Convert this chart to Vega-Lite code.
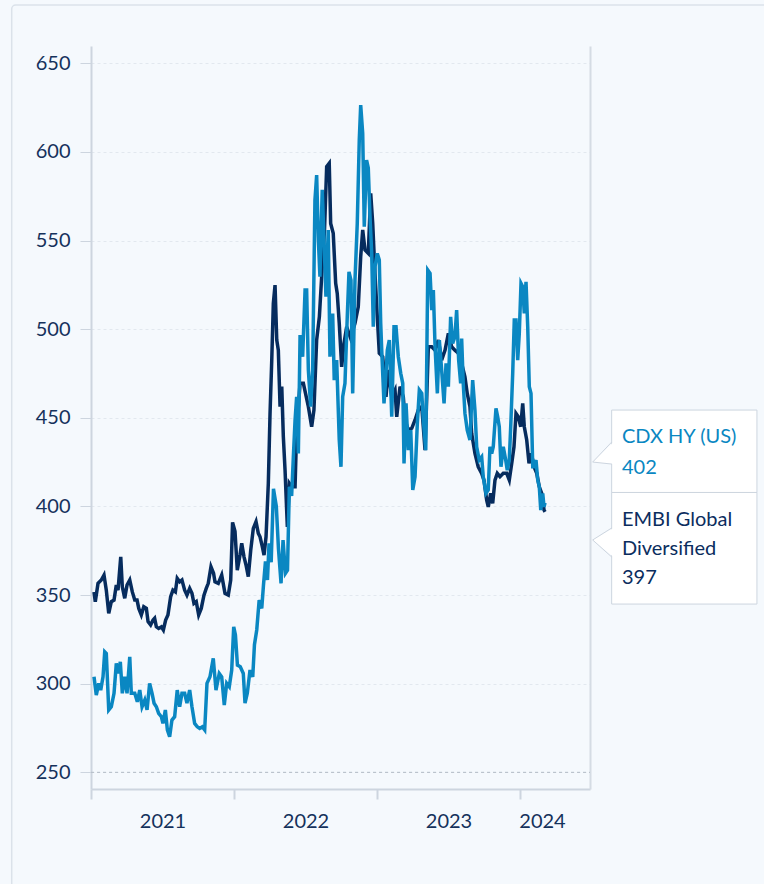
{
  "$schema": "https://vega.github.io/schema/vega-lite/v6.json",
  "autosize": {"type": "none"},
  "padding": {"left": 91, "top": 46, "right": 174, "bottom": 95},
  "width": 499,
  "height": 743,
  "background": "#f5f9fd",
  "config": {"view": {"stroke": null}, "font": "Lato"},
  "datasets": {
    "embi": [
      {"year":2021.021,"spread":351.8},{"year":2021.030,"spread":346.3},{"year":2021.049,"spread":356.6},{"year":2021.072,"spread":358.5},{"year":2021.091,"spread":361.3},{"year":2021.107,"spread":352.8},{"year":2021.124,"spread":339.7},{"year":2021.142,"spread":346.3},{"year":2021.161,"spread":347.2},{"year":2021.177,"spread":355.7},{"year":2021.189,"spread":352.8},{"year":2021.208,"spread":371.6},{"year":2021.219,"spread":354.7},{"year":2021.236,"spread":348.2},{"year":2021.252,"spread":355.7},{"year":2021.271,"spread":358.5},{"year":2021.289,"spread":351.8},{"year":2021.306,"spread":347.2},{"year":2021.322,"spread":347.2},{"year":2021.334,"spread":342.5},{"year":2021.352,"spread":338.8},{"year":2021.369,"spread":343.4},{"year":2021.387,"spread":342.5},{"year":2021.399,"spread":335},{"year":2021.417,"spread":333.1},{"year":2021.434,"spread":335.9},{"year":2021.445,"spread":336.9},{"year":2021.457,"spread":332.1},{"year":2021.473,"spread":331.2},{"year":2021.492,"spread":332.1},{"year":2021.506,"spread":330.3},{"year":2021.522,"spread":335.9},{"year":2021.538,"spread":338.8},{"year":2021.557,"spread":349.1},{"year":2021.573,"spread":352.8},{"year":2021.590,"spread":351.8},{"year":2021.603,"spread":359.4},{"year":2021.620,"spread":357.5},{"year":2021.636,"spread":358.5},{"year":2021.655,"spread":352.8},{"year":2021.671,"spread":350},{"year":2021.690,"spread":353.8},{"year":2021.706,"spread":351},{"year":2021.720,"spread":345.3},{"year":2021.736,"spread":346.3},{"year":2021.753,"spread":338.8},{"year":2021.771,"spread":342.5},{"year":2021.790,"spread":350},{"year":2021.806,"spread":353.8},{"year":2021.820,"spread":356.6},{"year":2021.839,"spread":366},{"year":2021.857,"spread":362.3},{"year":2021.867,"spread":357.5},{"year":2021.890,"spread":356.6},{"year":2021.914,"spread":361.3},{"year":2021.937,"spread":351},{"year":2021.960,"spread":350},{"year":2021.977,"spread":358.5},{"year":2021.990,"spread":391},{"year":2022.007,"spread":386},{"year":2022.023,"spread":364.1},{"year":2022.042,"spread":372.6},{"year":2022.054,"spread":379.2},{"year":2022.070,"spread":371.6},{"year":2022.084,"spread":367},{"year":2022.100,"spread":360.4},{"year":2022.117,"spread":375.4},{"year":2022.135,"spread":387.6},{"year":2022.154,"spread":391.4},{"year":2022.170,"spread":384.8},{"year":2022.182,"spread":382.9},{"year":2022.198,"spread":377.3},{"year":2022.210,"spread":372.6},{"year":2022.224,"spread":382.9},{"year":2022.240,"spread":413},{"year":2022.252,"spread":452.5},{"year":2022.264,"spread":482.6},{"year":2022.275,"spread":514.6},{"year":2022.287,"spread":524.9},{"year":2022.299,"spread":493.9},{"year":2022.310,"spread":488.2},{"year":2022.322,"spread":456.3},{"year":2022.334,"spread":467.6},{"year":2022.345,"spread":439.4},{"year":2022.357,"spread":420.5},{"year":2022.373,"spread":388.5},{"year":2022.387,"spread":413},{"year":2022.403,"spread":411.1},{"year":2022.427,"spread":411.1},{"year":2022.438,"spread":443},{"year":2022.462,"spread":469.5},{"year":2022.485,"spread":469.5},{"year":2022.520,"spread":456.3},{"year":2022.543,"spread":445},{"year":2022.559,"spread":454.4},{"year":2022.578,"spread":493.9},{"year":2022.597,"spread":507},{"year":2022.613,"spread":529.6},{"year":2022.633,"spread":556},{"year":2022.648,"spread":591.7},{"year":2022.666,"spread":593.6},{"year":2022.676,"spread":559.7},{"year":2022.694,"spread":554.1},{"year":2022.711,"spread":525.9},{"year":2022.722,"spread":520.2},{"year":2022.736,"spread":503.3},{"year":2022.753,"spread":478.8},{"year":2022.769,"spread":492},{"year":2022.788,"spread":501.4},{"year":2022.815,"spread":495},{"year":2022.846,"spread":503.3},{"year":2022.869,"spread":512.7},{"year":2022.886,"spread":540.9},{"year":2022.900,"spread":556},{"year":2022.916,"spread":544.7},{"year":2022.939,"spread":542.8},{"year":2022.956,"spread":576.7},{"year":2022.970,"spread":559.7},{"year":2022.986,"spread":531.5},{"year":2023.000,"spread":510},{"year":2023.016,"spread":486.4},{"year":2023.040,"spread":484.5},{"year":2023.063,"spread":461.9},{"year":2023.079,"spread":477},{"year":2023.103,"spread":461.9},{"year":2023.126,"spread":465.7},{"year":2023.138,"spread":450.6},{"year":2023.161,"spread":467.6},{"year":2023.184,"spread":461.9},{"year":2023.196,"spread":448.8},{"year":2023.219,"spread":443.1},{"year":2023.243,"spread":444.1},{"year":2023.266,"spread":448.8},{"year":2023.289,"spread":454.4},{"year":2023.313,"spread":456.3},{"year":2023.336,"spread":431.8},{"year":2023.359,"spread":490.1},{"year":2023.383,"spread":490.1},{"year":2023.406,"spread":488.2},{"year":2023.429,"spread":493.9},{"year":2023.452,"spread":482.6},{"year":2023.476,"spread":488.2},{"year":2023.499,"spread":497.7},{"year":2023.522,"spread":490.1},{"year":2023.545,"spread":488.2},{"year":2023.569,"spread":486.4},{"year":2023.592,"spread":480.7},{"year":2023.615,"spread":473.2},{"year":2023.631,"spread":463.8},{"year":2023.650,"spread":456.3},{"year":2023.662,"spread":441.3},{"year":2023.685,"spread":429.9},{"year":2023.708,"spread":422.4},{"year":2023.732,"spread":418.7},{"year":2023.748,"spread":414.9},{"year":2023.767,"spread":403.6},{"year":2023.778,"spread":399.8},{"year":2023.795,"spread":407.4},{"year":2023.809,"spread":401.8},{"year":2023.825,"spread":414.9},{"year":2023.841,"spread":418.7},{"year":2023.860,"spread":416.8},{"year":2023.883,"spread":418.7},{"year":2023.907,"spread":418.7},{"year":2023.925,"spread":414.9},{"year":2023.942,"spread":424.3},{"year":2023.958,"spread":433.7},{"year":2023.972,"spread":452.5},{"year":2023.988,"spread":450.6},{"year":2024.005,"spread":445},{"year":2024.019,"spread":458.2},{"year":2024.030,"spread":445},{"year":2024.047,"spread":437.5},{"year":2024.063,"spread":424.3},{"year":2024.080,"spread":430},{"year":2024.098,"spread":422.4},{"year":2024.117,"spread":418.7},{"year":2024.135,"spread":411.1},{"year":2024.152,"spread":407.4},{"year":2024.168,"spread":398},{"year":2024.175,"spread":397}
    ],
    "cdx": [
      {"year":2021.021,"spread":303.9},{"year":2021.037,"spread":293.6},{"year":2021.054,"spread":300.2},{"year":2021.068,"spread":296.4},{"year":2021.084,"spread":303.9},{"year":2021.096,"spread":318},{"year":2021.107,"spread":317.1},{"year":2021.124,"spread":285.2},{"year":2021.142,"spread":287},{"year":2021.161,"spread":294.6},{"year":2021.177,"spread":311.5},{"year":2021.194,"spread":305.8},{"year":2021.205,"spread":312.4},{"year":2021.219,"spread":294.6},{"year":2021.236,"spread":303.9},{"year":2021.252,"spread":294.6},{"year":2021.271,"spread":315.2},{"year":2021.282,"spread":294.6},{"year":2021.306,"spread":294.6},{"year":2021.324,"spread":289.8},{"year":2021.341,"spread":296.4},{"year":2021.357,"spread":287},{"year":2021.376,"spread":290.8},{"year":2021.392,"spread":285.2},{"year":2021.410,"spread":300.2},{"year":2021.427,"spread":294.6},{"year":2021.441,"spread":289},{"year":2021.457,"spread":287},{"year":2021.473,"spread":283.3},{"year":2021.492,"spread":281.4},{"year":2021.503,"spread":277.6},{"year":2021.520,"spread":285.2},{"year":2021.534,"spread":273.9},{"year":2021.550,"spread":270.1},{"year":2021.566,"spread":279.5},{"year":2021.585,"spread":281.4},{"year":2021.603,"spread":296.4},{"year":2021.620,"spread":287},{"year":2021.636,"spread":294.6},{"year":2021.655,"spread":294.6},{"year":2021.671,"spread":289},{"year":2021.690,"spread":296.4},{"year":2021.706,"spread":287},{"year":2021.725,"spread":277.6},{"year":2021.743,"spread":275.7},{"year":2021.760,"spread":274.8},{"year":2021.778,"spread":275.7},{"year":2021.795,"spread":273.9},{"year":2021.811,"spread":300.2},{"year":2021.832,"spread":303.9},{"year":2021.855,"spread":314.3},{"year":2021.874,"spread":296.4},{"year":2021.897,"spread":305.8},{"year":2021.914,"spread":303.9},{"year":2021.932,"spread":288},{"year":2021.949,"spread":300.2},{"year":2021.967,"spread":298.3},{"year":2021.984,"spread":307.7},{"year":2021.998,"spread":332.1},{"year":2022.010,"spread":327.5},{"year":2022.024,"spread":310.5},{"year":2022.044,"spread":309.6},{"year":2022.065,"spread":305.8},{"year":2022.077,"spread":289},{"year":2022.093,"spread":294.6},{"year":2022.112,"spread":307.7},{"year":2022.131,"spread":303.9},{"year":2022.143,"spread":322},{"year":2022.159,"spread":330.3},{"year":2022.176,"spread":347.2},{"year":2022.194,"spread":342.5},{"year":2022.206,"spread":355.5},{"year":2022.220,"spread":369},{"year":2022.234,"spread":358.5},{"year":2022.245,"spread":379.2},{"year":2022.260,"spread":368.5},{"year":2022.276,"spread":410},{"year":2022.296,"spread":400},{"year":2022.311,"spread":376},{"year":2022.329,"spread":356.6},{"year":2022.343,"spread":381},{"year":2022.360,"spread":362.3},{"year":2022.374,"spread":364},{"year":2022.387,"spread":411.1},{"year":2022.403,"spread":406},{"year":2022.415,"spread":428},{"year":2022.427,"spread":448.8},{"year":2022.438,"spread":461.9},{"year":2022.450,"spread":429.9},{"year":2022.462,"spread":496.8},{"year":2022.480,"spread":484.5},{"year":2022.497,"spread":522.1},{"year":2022.508,"spread":522.1},{"year":2022.520,"spread":477},{"year":2022.536,"spread":456.3},{"year":2022.550,"spread":477},{"year":2022.566,"spread":572.9},{"year":2022.578,"spread":587},{"year":2022.590,"spread":550.3},{"year":2022.601,"spread":529.6},{"year":2022.617,"spread":578.6},{"year":2022.631,"spread":546.6},{"year":2022.643,"spread":518.3},{"year":2022.659,"spread":556},{"year":2022.671,"spread":484.5},{"year":2022.690,"spread":508.9},{"year":2022.701,"spread":471.3},{"year":2022.718,"spread":482.6},{"year":2022.736,"spread":437.5},{"year":2022.748,"spread":422.4},{"year":2022.760,"spread":461.9},{"year":2022.776,"spread":469.5},{"year":2022.792,"spread":507},{"year":2022.804,"spread":532.4},{"year":2022.818,"spread":527.7},{"year":2022.830,"spread":463.8},{"year":2022.846,"spread":527.7},{"year":2022.862,"spread":559.7},{"year":2022.876,"spread":606.7},{"year":2022.886,"spread":626.5},{"year":2022.900,"spread":610.5},{"year":2022.911,"spread":557.8},{"year":2022.927,"spread":595.4},{"year":2022.939,"spread":591},{"year":2022.951,"spread":563.5},{"year":2022.963,"spread":542.8},{"year":2022.974,"spread":501.4},{"year":2022.986,"spread":535.3},{"year":2023.002,"spread":542.8},{"year":2023.016,"spread":539},{"year":2023.026,"spread":503.3},{"year":2023.033,"spread":488.2},{"year":2023.049,"spread":458.2},{"year":2023.059,"spread":470},{"year":2023.072,"spread":488.2},{"year":2023.086,"spread":493.9},{"year":2023.103,"spread":450.6},{"year":2023.119,"spread":501.4},{"year":2023.133,"spread":501.4},{"year":2023.149,"spread":484.5},{"year":2023.166,"spread":475.1},{"year":2023.180,"spread":469.5},{"year":2023.189,"spread":424.3},{"year":2023.203,"spread":458.2},{"year":2023.219,"spread":431.8},{"year":2023.236,"spread":443.1},{"year":2023.250,"spread":409.3},{"year":2023.266,"spread":416.8},{"year":2023.282,"spread":446.9},{"year":2023.296,"spread":465.7},{"year":2023.313,"spread":463.8},{"year":2023.324,"spread":448.8},{"year":2023.341,"spread":431.8},{"year":2023.355,"spread":533.4},{"year":2023.371,"spread":531.5},{"year":2023.383,"spread":510.8},{"year":2023.394,"spread":522.1},{"year":2023.406,"spread":490.1},{"year":2023.422,"spread":463.8},{"year":2023.436,"spread":493.9},{"year":2023.452,"spread":477},{"year":2023.469,"spread":458.2},{"year":2023.483,"spread":480.7},{"year":2023.499,"spread":467.6},{"year":2023.515,"spread":507},{"year":2023.529,"spread":492},{"year":2023.545,"spread":495.8},{"year":2023.557,"spread":510.8},{"year":2023.571,"spread":482.6},{"year":2023.585,"spread":469.5},{"year":2023.592,"spread":494.8},{"year":2023.603,"spread":469.5},{"year":2023.615,"spread":452.5},{"year":2023.631,"spread":443.1},{"year":2023.650,"spread":437.5},{"year":2023.669,"spread":471.3},{"year":2023.685,"spread":454.4},{"year":2023.697,"spread":433.7},{"year":2023.715,"spread":426.2},{"year":2023.732,"spread":428},{"year":2023.743,"spread":416.8},{"year":2023.762,"spread":407.4},{"year":2023.778,"spread":409.3},{"year":2023.790,"spread":433.7},{"year":2023.802,"spread":429.9},{"year":2023.813,"spread":433.7},{"year":2023.832,"spread":455.3},{"year":2023.844,"spread":450.6},{"year":2023.855,"spread":445},{"year":2023.867,"spread":422.4},{"year":2023.883,"spread":433.7},{"year":2023.900,"spread":426.2},{"year":2023.911,"spread":420.5},{"year":2023.925,"spread":426.2},{"year":2023.935,"spread":445},{"year":2023.949,"spread":475.1},{"year":2023.960,"spread":505.2},{"year":2023.972,"spread":505.2},{"year":2023.984,"spread":482.6},{"year":2023.995,"spread":497.7},{"year":2024.007,"spread":525.9},{"year":2024.019,"spread":524},{"year":2024.030,"spread":508.9},{"year":2024.042,"spread":526.8},{"year":2024.054,"spread":501.4},{"year":2024.065,"spread":467.6},{"year":2024.077,"spread":463.8},{"year":2024.089,"spread":422.4},{"year":2024.100,"spread":422.4},{"year":2024.112,"spread":426.2},{"year":2024.124,"spread":414.9},{"year":2024.135,"spread":411.1},{"year":2024.145,"spread":398},{"year":2024.159,"spread":407.4},{"year":2024.168,"spread":399.8},{"year":2024.175,"spread":402}
    ]
  },
  "resolve": {"axis": {"x": "independent", "y": "independent"}},
  "layer": [
    {
      "data": {"values": [{}]},
      "mark": {"type": "rect", "fill": null, "stroke": "#dbe2ea", "strokeWidth": 1.5, "cornerRadius": 4},
      "encoding": {
        "x": {"datum": 2020.4455, "type": "quantitative", "axis": null},
        "x2": {"datum": 2026.2},
        "y": {"datum": 682.9, "type": "quantitative", "axis": null},
        "y2": {"datum": 180}
      }
    },
    {
      "data": {"name": "embi"},
      "mark": {"type": "line", "color": "#062c5e", "strokeWidth": 3.5, "strokeJoin": "miter"},
      "encoding": {
        "x": {"field": "year", "type": "quantitative",
          "scale": {"domain": [2021, 2024.4895], "nice": false, "zero": false},
          "axis": {"values": [2021, 2022, 2023, 2024], "labels": false, "ticks": true, "tickSize": 10, "tickWidth": 2, "tickColor": "#cdd5df", "domain": true, "domainColor": "#cdd5df", "domainWidth": 2, "grid": false, "title": null}},
        "y": {"field": "spread", "type": "quantitative",
          "scale": {"domain": [240.6, 659.8], "nice": false, "zero": false},
          "axis": {"orient": "left", "values": [250, 300, 350, 400, 450, 500, 550, 600, 650], "grid": true, "gridDash": [3, 3], "gridColor": "#e2e8ef", "gridWidth": 1, "tickSize": 11, "tickWidth": 1, "tickColor": "#cdd5df", "labelPadding": 10, "labelFontSize": 20, "labelColor": "#15325c", "labelFont": "Lato", "domain": true, "domainColor": "#cdd5df", "domainWidth": 2, "title": null}}
      }
    },
    {
      "data": {"name": "cdx"},
      "mark": {"type": "line", "color": "#0a87c2", "strokeWidth": 3.5, "strokeJoin": "miter"},
      "encoding": {
        "x": {"field": "year", "type": "quantitative", "axis": null},
        "y": {"field": "spread", "type": "quantitative", "axis": null}
      }
    },
    {
      "data": {"values": [{}]},
      "mark": {"type": "rule", "color": "#b4bcc6", "strokeDash": [3, 3], "strokeWidth": 1},
      "encoding": {
        "x": {"datum": 2021, "type": "quantitative",
          "axis": {"orient": "bottom", "values": [2021.5, 2022.5, 2023.5, 2024.154], "labelExpr": "'' + floor(datum.value)", "ticks": true, "tickOpacity": 0, "tickSize": 10, "domain": false, "grid": false, "labelPadding": 12, "labelBaseline": "top", "labelFlush": false, "labelFontSize": 20, "labelColor": "#15325c", "labelFont": "Lato", "title": null}},
        "x2": {"datum": 2024.4895},
        "y": {"datum": 250, "type": "quantitative",
          "axis": {"orient": "right", "labels": false, "ticks": false, "grid": false, "domain": true, "domainColor": "#d5dce4", "domainWidth": 2, "title": null}}
      }
    },
    {
      "data": {"values": [{}]},
      "mark": {"type": "rect", "fill": "#ffffff", "stroke": "#cdd5df", "strokeWidth": 1},
      "encoding": {
        "x": {"datum": 2024.641, "type": "quantitative", "axis": null},
        "x2": {"datum": 2025.657},
        "y": {"datum": 454.4, "type": "quantitative", "axis": null},
        "y2": {"datum": 407.9}
      }
    },
    {
      "data": {"values": [{}]},
      "mark": {"type": "rect", "fill": "#ffffff", "stroke": "#cdd5df", "strokeWidth": 1},
      "encoding": {
        "x": {"datum": 2024.641, "type": "quantitative", "axis": null},
        "x2": {"datum": 2025.657},
        "y": {"datum": 407.9, "type": "quantitative", "axis": null},
        "y2": {"datum": 344.95}
      }
    },
    {
      "data": {"values": [{}]},
      "mark": {"type": "point", "filled": true, "fill": "#ffffff", "fillOpacity": 1, "strokeWidth": 0, "size": 4, "shape": "M21,-20L0,0L21,2Z"},
      "encoding": {
        "x": {"datum": 2024.5084, "type": "quantitative", "axis": null},
        "y": {"datum": 425.06, "type": "quantitative", "axis": null}
      }
    },
    {
      "data": {"values": [{}]},
      "mark": {"type": "point", "filled": false, "stroke": "#cdd5df", "strokeWidth": 1, "opacity": 1, "size": 4, "shape": "M19,-20L0,0L19,2"},
      "encoding": {
        "x": {"datum": 2024.5084, "type": "quantitative", "axis": null},
        "y": {"datum": 425.06, "type": "quantitative", "axis": null}
      }
    },
    {
      "data": {"values": [{}]},
      "mark": {"type": "point", "filled": true, "fill": "#ffffff", "fillOpacity": 1, "strokeWidth": 0, "size": 4, "shape": "M21,-12L0,0L21,17Z"},
      "encoding": {
        "x": {"datum": 2024.5084, "type": "quantitative", "axis": null},
        "y": {"datum": 381.1, "type": "quantitative", "axis": null}
      }
    },
    {
      "data": {"values": [{}]},
      "mark": {"type": "point", "filled": false, "stroke": "#cdd5df", "strokeWidth": 1, "opacity": 1, "size": 4, "shape": "M19,-12L0,0L19,17"},
      "encoding": {
        "x": {"datum": 2024.5084, "type": "quantitative", "axis": null},
        "y": {"datum": 381.1, "type": "quantitative", "axis": null}
      }
    },
    {
      "data": {"values": [{}]},
      "mark": {"type": "text", "text": ["CDX HY (US)", "402"], "align": "left", "baseline": "middle", "lineHeight": 31, "fontSize": 20, "font": "Lato", "color": "#0a87c2"},
      "encoding": {
        "x": {"datum": 2024.713, "type": "quantitative", "axis": null},
        "y": {"datum": 439.2, "type": "quantitative", "axis": null}
      }
    },
    {
      "data": {"values": [{}]},
      "mark": {"type": "text", "text": ["EMBI Global", "Diversified", "397"], "align": "left", "baseline": "middle", "lineHeight": 29, "fontSize": 20, "font": "Lato", "color": "#0b2d5e"},
      "encoding": {
        "x": {"datum": 2024.713, "type": "quantitative", "axis": null},
        "y": {"datum": 392.3, "type": "quantitative", "axis": null}
      }
    }
  ]
}
